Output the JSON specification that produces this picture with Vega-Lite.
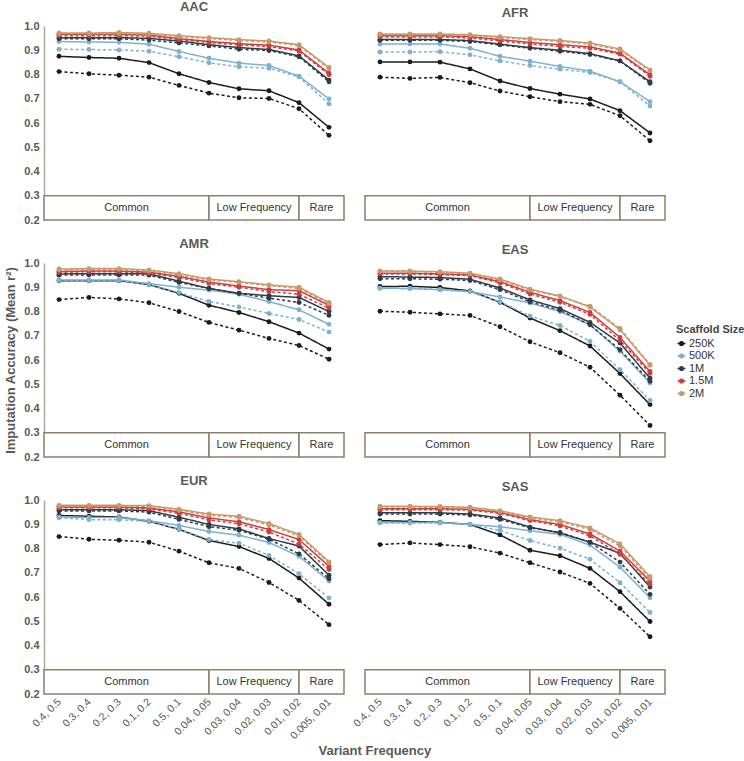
{
"$schema": "https://vega.github.io/schema/vega-lite/v6.json",
"padding": {"left": 4, "top": 1, "right": 0, "bottom": 4},
"data": {"format": {"type": "csv", "parse": {"i": "number", "acc": "number"}}, "values": "pop,size,style,i,acc\nAAC,250K,solid,0,0.875\nAAC,250K,solid,1,0.870\nAAC,250K,solid,2,0.867\nAAC,250K,solid,3,0.849\nAAC,250K,solid,4,0.803\nAAC,250K,solid,5,0.767\nAAC,250K,solid,6,0.741\nAAC,250K,solid,7,0.733\nAAC,250K,solid,8,0.684\nAAC,250K,solid,9,0.582\nAAC,250K,dashed,0,0.812\nAAC,250K,dashed,1,0.803\nAAC,250K,dashed,2,0.797\nAAC,250K,dashed,3,0.789\nAAC,250K,dashed,4,0.755\nAAC,250K,dashed,5,0.723\nAAC,250K,dashed,6,0.704\nAAC,250K,dashed,7,0.701\nAAC,250K,dashed,8,0.659\nAAC,250K,dashed,9,0.549\nAAC,500K,solid,0,0.936\nAAC,500K,solid,1,0.934\nAAC,500K,solid,2,0.933\nAAC,500K,solid,3,0.925\nAAC,500K,solid,4,0.895\nAAC,500K,solid,5,0.867\nAAC,500K,solid,6,0.847\nAAC,500K,solid,7,0.837\nAAC,500K,solid,8,0.793\nAAC,500K,solid,9,0.699\nAAC,500K,dashed,0,0.904\nAAC,500K,dashed,1,0.903\nAAC,500K,dashed,2,0.901\nAAC,500K,dashed,3,0.896\nAAC,500K,dashed,4,0.873\nAAC,500K,dashed,5,0.848\nAAC,500K,dashed,6,0.832\nAAC,500K,dashed,7,0.826\nAAC,500K,dashed,8,0.790\nAAC,500K,dashed,9,0.679\nAAC,1M,solid,0,0.952\nAAC,1M,solid,1,0.952\nAAC,1M,solid,2,0.952\nAAC,1M,solid,3,0.949\nAAC,1M,solid,4,0.938\nAAC,1M,solid,5,0.923\nAAC,1M,solid,6,0.911\nAAC,1M,solid,7,0.903\nAAC,1M,solid,8,0.877\nAAC,1M,solid,9,0.777\nAAC,1M,dashed,0,0.947\nAAC,1M,dashed,1,0.947\nAAC,1M,dashed,2,0.947\nAAC,1M,dashed,3,0.942\nAAC,1M,dashed,4,0.930\nAAC,1M,dashed,5,0.918\nAAC,1M,dashed,6,0.904\nAAC,1M,dashed,7,0.899\nAAC,1M,dashed,8,0.873\nAAC,1M,dashed,9,0.770\nAAC,1.5M,solid,0,0.966\nAAC,1.5M,solid,1,0.966\nAAC,1.5M,solid,2,0.966\nAAC,1.5M,solid,3,0.963\nAAC,1.5M,solid,4,0.948\nAAC,1.5M,solid,5,0.936\nAAC,1.5M,solid,6,0.927\nAAC,1.5M,solid,7,0.921\nAAC,1.5M,solid,8,0.901\nAAC,1.5M,solid,9,0.805\nAAC,1.5M,dashed,0,0.960\nAAC,1.5M,dashed,1,0.960\nAAC,1.5M,dashed,2,0.960\nAAC,1.5M,dashed,3,0.958\nAAC,1.5M,dashed,4,0.944\nAAC,1.5M,dashed,5,0.932\nAAC,1.5M,dashed,6,0.922\nAAC,1.5M,dashed,7,0.915\nAAC,1.5M,dashed,8,0.897\nAAC,1.5M,dashed,9,0.799\nAAC,2M,solid,0,0.971\nAAC,2M,solid,1,0.971\nAAC,2M,solid,2,0.973\nAAC,2M,solid,3,0.970\nAAC,2M,solid,4,0.960\nAAC,2M,solid,5,0.952\nAAC,2M,solid,6,0.944\nAAC,2M,solid,7,0.938\nAAC,2M,solid,8,0.923\nAAC,2M,solid,9,0.829\nAAC,2M,dashed,0,0.968\nAAC,2M,dashed,1,0.968\nAAC,2M,dashed,2,0.968\nAAC,2M,dashed,3,0.966\nAAC,2M,dashed,4,0.956\nAAC,2M,dashed,5,0.948\nAAC,2M,dashed,6,0.940\nAAC,2M,dashed,7,0.934\nAAC,2M,dashed,8,0.919\nAAC,2M,dashed,9,0.823\nAFR,250K,solid,0,0.852\nAFR,250K,solid,1,0.852\nAFR,250K,solid,2,0.851\nAFR,250K,solid,3,0.823\nAFR,250K,solid,4,0.773\nAFR,250K,solid,5,0.742\nAFR,250K,solid,6,0.719\nAFR,250K,solid,7,0.699\nAFR,250K,solid,8,0.651\nAFR,250K,solid,9,0.559\nAFR,250K,dashed,0,0.789\nAFR,250K,dashed,1,0.784\nAFR,250K,dashed,2,0.788\nAFR,250K,dashed,3,0.766\nAFR,250K,dashed,4,0.732\nAFR,250K,dashed,5,0.708\nAFR,250K,dashed,6,0.688\nAFR,250K,dashed,7,0.677\nAFR,250K,dashed,8,0.630\nAFR,250K,dashed,9,0.527\nAFR,500K,solid,0,0.926\nAFR,500K,solid,1,0.926\nAFR,500K,solid,2,0.926\nAFR,500K,solid,3,0.908\nAFR,500K,solid,4,0.875\nAFR,500K,solid,5,0.855\nAFR,500K,solid,6,0.833\nAFR,500K,solid,7,0.814\nAFR,500K,solid,8,0.770\nAFR,500K,solid,9,0.688\nAFR,500K,dashed,0,0.893\nAFR,500K,dashed,1,0.893\nAFR,500K,dashed,2,0.894\nAFR,500K,dashed,3,0.881\nAFR,500K,dashed,4,0.856\nAFR,500K,dashed,5,0.837\nAFR,500K,dashed,6,0.822\nAFR,500K,dashed,7,0.808\nAFR,500K,dashed,8,0.770\nAFR,500K,dashed,9,0.670\nAFR,1M,solid,0,0.944\nAFR,1M,solid,1,0.944\nAFR,1M,solid,2,0.944\nAFR,1M,solid,3,0.940\nAFR,1M,solid,4,0.925\nAFR,1M,solid,5,0.911\nAFR,1M,solid,6,0.900\nAFR,1M,solid,7,0.886\nAFR,1M,solid,8,0.856\nAFR,1M,solid,9,0.770\nAFR,1M,dashed,0,0.941\nAFR,1M,dashed,1,0.941\nAFR,1M,dashed,2,0.941\nAFR,1M,dashed,3,0.936\nAFR,1M,dashed,4,0.922\nAFR,1M,dashed,5,0.908\nAFR,1M,dashed,6,0.896\nAFR,1M,dashed,7,0.882\nAFR,1M,dashed,8,0.856\nAFR,1M,dashed,9,0.764\nAFR,1.5M,solid,0,0.960\nAFR,1.5M,solid,1,0.960\nAFR,1.5M,solid,2,0.960\nAFR,1.5M,solid,3,0.956\nAFR,1.5M,solid,4,0.944\nAFR,1.5M,solid,5,0.932\nAFR,1.5M,solid,6,0.923\nAFR,1.5M,solid,7,0.914\nAFR,1.5M,solid,8,0.888\nAFR,1.5M,solid,9,0.799\nAFR,1.5M,dashed,0,0.955\nAFR,1.5M,dashed,1,0.955\nAFR,1.5M,dashed,2,0.955\nAFR,1.5M,dashed,3,0.951\nAFR,1.5M,dashed,4,0.938\nAFR,1.5M,dashed,5,0.926\nAFR,1.5M,dashed,6,0.916\nAFR,1.5M,dashed,7,0.908\nAFR,1.5M,dashed,8,0.884\nAFR,1.5M,dashed,9,0.793\nAFR,2M,solid,0,0.967\nAFR,2M,solid,1,0.967\nAFR,2M,solid,2,0.967\nAFR,2M,solid,3,0.964\nAFR,2M,solid,4,0.956\nAFR,2M,solid,5,0.948\nAFR,2M,solid,6,0.940\nAFR,2M,solid,7,0.930\nAFR,2M,solid,8,0.905\nAFR,2M,solid,9,0.819\nAFR,2M,dashed,0,0.964\nAFR,2M,dashed,1,0.964\nAFR,2M,dashed,2,0.964\nAFR,2M,dashed,3,0.962\nAFR,2M,dashed,4,0.952\nAFR,2M,dashed,5,0.944\nAFR,2M,dashed,6,0.936\nAFR,2M,dashed,7,0.926\nAFR,2M,dashed,8,0.901\nAFR,2M,dashed,9,0.815\nAMR,250K,solid,0,0.927\nAMR,250K,solid,1,0.927\nAMR,250K,solid,2,0.927\nAMR,250K,solid,3,0.911\nAMR,250K,solid,4,0.875\nAMR,250K,solid,5,0.826\nAMR,250K,solid,6,0.796\nAMR,250K,solid,7,0.758\nAMR,250K,solid,8,0.711\nAMR,250K,solid,9,0.645\nAMR,250K,dashed,0,0.849\nAMR,250K,dashed,1,0.858\nAMR,250K,dashed,2,0.852\nAMR,250K,dashed,3,0.836\nAMR,250K,dashed,4,0.800\nAMR,250K,dashed,5,0.755\nAMR,250K,dashed,6,0.723\nAMR,250K,dashed,7,0.689\nAMR,250K,dashed,8,0.660\nAMR,250K,dashed,9,0.603\nAMR,500K,solid,0,0.930\nAMR,500K,solid,1,0.930\nAMR,500K,solid,2,0.930\nAMR,500K,solid,3,0.915\nAMR,500K,solid,4,0.900\nAMR,500K,solid,5,0.888\nAMR,500K,solid,6,0.871\nAMR,500K,solid,7,0.841\nAMR,500K,solid,8,0.807\nAMR,500K,solid,9,0.747\nAMR,500K,dashed,0,0.928\nAMR,500K,dashed,1,0.928\nAMR,500K,dashed,2,0.928\nAMR,500K,dashed,3,0.911\nAMR,500K,dashed,4,0.878\nAMR,500K,dashed,5,0.841\nAMR,500K,dashed,6,0.819\nAMR,500K,dashed,7,0.792\nAMR,500K,dashed,8,0.767\nAMR,500K,dashed,9,0.715\nAMR,1M,solid,0,0.955\nAMR,1M,solid,1,0.956\nAMR,1M,solid,2,0.956\nAMR,1M,solid,3,0.955\nAMR,1M,solid,4,0.925\nAMR,1M,solid,5,0.895\nAMR,1M,solid,6,0.875\nAMR,1M,solid,7,0.865\nAMR,1M,solid,8,0.858\nAMR,1M,solid,9,0.800\nAMR,1M,dashed,0,0.950\nAMR,1M,dashed,1,0.951\nAMR,1M,dashed,2,0.951\nAMR,1M,dashed,3,0.950\nAMR,1M,dashed,4,0.920\nAMR,1M,dashed,5,0.895\nAMR,1M,dashed,6,0.875\nAMR,1M,dashed,7,0.855\nAMR,1M,dashed,8,0.837\nAMR,1M,dashed,9,0.784\nAMR,1.5M,solid,0,0.965\nAMR,1.5M,solid,1,0.967\nAMR,1.5M,solid,2,0.967\nAMR,1.5M,solid,3,0.962\nAMR,1.5M,solid,4,0.945\nAMR,1.5M,solid,5,0.921\nAMR,1.5M,solid,6,0.905\nAMR,1.5M,solid,7,0.890\nAMR,1.5M,solid,8,0.886\nAMR,1.5M,solid,9,0.825\nAMR,1.5M,dashed,0,0.962\nAMR,1.5M,dashed,1,0.964\nAMR,1.5M,dashed,2,0.964\nAMR,1.5M,dashed,3,0.958\nAMR,1.5M,dashed,4,0.940\nAMR,1.5M,dashed,5,0.915\nAMR,1.5M,dashed,6,0.900\nAMR,1.5M,dashed,7,0.882\nAMR,1.5M,dashed,8,0.871\nAMR,1.5M,dashed,9,0.814\nAMR,2M,solid,0,0.975\nAMR,2M,solid,1,0.977\nAMR,2M,solid,2,0.977\nAMR,2M,solid,3,0.971\nAMR,2M,solid,4,0.956\nAMR,2M,solid,5,0.934\nAMR,2M,solid,6,0.923\nAMR,2M,solid,7,0.910\nAMR,2M,solid,8,0.900\nAMR,2M,solid,9,0.837\nAMR,2M,dashed,0,0.972\nAMR,2M,dashed,1,0.974\nAMR,2M,dashed,2,0.974\nAMR,2M,dashed,3,0.968\nAMR,2M,dashed,4,0.952\nAMR,2M,dashed,5,0.930\nAMR,2M,dashed,6,0.920\nAMR,2M,dashed,7,0.906\nAMR,2M,dashed,8,0.895\nAMR,2M,dashed,9,0.832\nEAS,250K,solid,0,0.903\nEAS,250K,solid,1,0.904\nEAS,250K,solid,2,0.899\nEAS,250K,solid,3,0.885\nEAS,250K,solid,4,0.838\nEAS,250K,solid,5,0.773\nEAS,250K,solid,6,0.721\nEAS,250K,solid,7,0.658\nEAS,250K,solid,8,0.544\nEAS,250K,solid,9,0.416\nEAS,250K,dashed,0,0.801\nEAS,250K,dashed,1,0.797\nEAS,250K,dashed,2,0.790\nEAS,250K,dashed,3,0.784\nEAS,250K,dashed,4,0.737\nEAS,250K,dashed,5,0.675\nEAS,250K,dashed,6,0.630\nEAS,250K,dashed,7,0.570\nEAS,250K,dashed,8,0.455\nEAS,250K,dashed,9,0.330\nEAS,500K,solid,0,0.896\nEAS,500K,solid,1,0.895\nEAS,500K,solid,2,0.890\nEAS,500K,solid,3,0.882\nEAS,500K,solid,4,0.860\nEAS,500K,solid,5,0.835\nEAS,500K,solid,6,0.800\nEAS,500K,solid,7,0.745\nEAS,500K,solid,8,0.636\nEAS,500K,solid,9,0.505\nEAS,500K,dashed,0,0.896\nEAS,500K,dashed,1,0.895\nEAS,500K,dashed,2,0.890\nEAS,500K,dashed,3,0.882\nEAS,500K,dashed,4,0.840\nEAS,500K,dashed,5,0.781\nEAS,500K,dashed,6,0.742\nEAS,500K,dashed,7,0.677\nEAS,500K,dashed,8,0.560\nEAS,500K,dashed,9,0.433\nEAS,1M,solid,0,0.944\nEAS,1M,solid,1,0.942\nEAS,1M,solid,2,0.940\nEAS,1M,solid,3,0.933\nEAS,1M,solid,4,0.897\nEAS,1M,solid,5,0.848\nEAS,1M,solid,6,0.812\nEAS,1M,solid,7,0.755\nEAS,1M,solid,8,0.670\nEAS,1M,solid,9,0.525\nEAS,1M,dashed,0,0.935\nEAS,1M,dashed,1,0.935\nEAS,1M,dashed,2,0.933\nEAS,1M,dashed,3,0.928\nEAS,1M,dashed,4,0.890\nEAS,1M,dashed,5,0.840\nEAS,1M,dashed,6,0.805\nEAS,1M,dashed,7,0.745\nEAS,1M,dashed,8,0.642\nEAS,1M,dashed,9,0.512\nEAS,1.5M,solid,0,0.958\nEAS,1.5M,solid,1,0.958\nEAS,1.5M,solid,2,0.955\nEAS,1.5M,solid,3,0.951\nEAS,1.5M,solid,4,0.923\nEAS,1.5M,solid,5,0.879\nEAS,1.5M,solid,6,0.845\nEAS,1.5M,solid,7,0.796\nEAS,1.5M,solid,8,0.693\nEAS,1.5M,solid,9,0.553\nEAS,1.5M,dashed,0,0.955\nEAS,1.5M,dashed,1,0.955\nEAS,1.5M,dashed,2,0.952\nEAS,1.5M,dashed,3,0.948\nEAS,1.5M,dashed,4,0.918\nEAS,1.5M,dashed,5,0.872\nEAS,1.5M,dashed,6,0.838\nEAS,1.5M,dashed,7,0.788\nEAS,1.5M,dashed,8,0.680\nEAS,1.5M,dashed,9,0.545\nEAS,2M,solid,0,0.967\nEAS,2M,solid,1,0.967\nEAS,2M,solid,2,0.964\nEAS,2M,solid,3,0.958\nEAS,2M,solid,4,0.934\nEAS,2M,solid,5,0.892\nEAS,2M,solid,6,0.864\nEAS,2M,solid,7,0.818\nEAS,2M,solid,8,0.725\nEAS,2M,solid,9,0.578\nEAS,2M,dashed,0,0.965\nEAS,2M,dashed,1,0.965\nEAS,2M,dashed,2,0.962\nEAS,2M,dashed,3,0.955\nEAS,2M,dashed,4,0.930\nEAS,2M,dashed,5,0.888\nEAS,2M,dashed,6,0.862\nEAS,2M,dashed,7,0.822\nEAS,2M,dashed,8,0.730\nEAS,2M,dashed,9,0.582\nEUR,250K,solid,0,0.936\nEUR,250K,solid,1,0.933\nEUR,250K,solid,2,0.930\nEUR,250K,solid,3,0.912\nEUR,250K,solid,4,0.879\nEUR,250K,solid,5,0.833\nEUR,250K,solid,6,0.808\nEUR,250K,solid,7,0.759\nEUR,250K,solid,8,0.678\nEUR,250K,solid,9,0.570\nEUR,250K,dashed,0,0.849\nEUR,250K,dashed,1,0.838\nEUR,250K,dashed,2,0.834\nEUR,250K,dashed,3,0.826\nEUR,250K,dashed,4,0.789\nEUR,250K,dashed,5,0.741\nEUR,250K,dashed,6,0.718\nEUR,250K,dashed,7,0.660\nEUR,250K,dashed,8,0.586\nEUR,250K,dashed,9,0.486\nEUR,500K,solid,0,0.930\nEUR,500K,solid,1,0.928\nEUR,500K,solid,2,0.928\nEUR,500K,solid,3,0.915\nEUR,500K,solid,4,0.895\nEUR,500K,solid,5,0.870\nEUR,500K,solid,6,0.855\nEUR,500K,solid,7,0.825\nEUR,500K,solid,8,0.768\nEUR,500K,solid,9,0.666\nEUR,500K,dashed,0,0.927\nEUR,500K,dashed,1,0.919\nEUR,500K,dashed,2,0.919\nEUR,500K,dashed,3,0.912\nEUR,500K,dashed,4,0.879\nEUR,500K,dashed,5,0.837\nEUR,500K,dashed,6,0.822\nEUR,500K,dashed,7,0.771\nEUR,500K,dashed,8,0.696\nEUR,500K,dashed,9,0.596\nEUR,1M,solid,0,0.960\nEUR,1M,solid,1,0.960\nEUR,1M,solid,2,0.960\nEUR,1M,solid,3,0.956\nEUR,1M,solid,4,0.929\nEUR,1M,solid,5,0.899\nEUR,1M,solid,6,0.881\nEUR,1M,solid,7,0.841\nEUR,1M,solid,8,0.810\nEUR,1M,solid,9,0.690\nEUR,1M,dashed,0,0.955\nEUR,1M,dashed,1,0.955\nEUR,1M,dashed,2,0.955\nEUR,1M,dashed,3,0.950\nEUR,1M,dashed,4,0.920\nEUR,1M,dashed,5,0.890\nEUR,1M,dashed,6,0.875\nEUR,1M,dashed,7,0.838\nEUR,1M,dashed,8,0.778\nEUR,1M,dashed,9,0.675\nEUR,1.5M,solid,0,0.971\nEUR,1.5M,solid,1,0.971\nEUR,1.5M,solid,2,0.971\nEUR,1.5M,solid,3,0.967\nEUR,1.5M,solid,4,0.951\nEUR,1.5M,solid,5,0.926\nEUR,1.5M,solid,6,0.910\nEUR,1.5M,solid,7,0.878\nEUR,1.5M,solid,8,0.837\nEUR,1.5M,solid,9,0.727\nEUR,1.5M,dashed,0,0.968\nEUR,1.5M,dashed,1,0.968\nEUR,1.5M,dashed,2,0.968\nEUR,1.5M,dashed,3,0.963\nEUR,1.5M,dashed,4,0.945\nEUR,1.5M,dashed,5,0.918\nEUR,1.5M,dashed,6,0.902\nEUR,1.5M,dashed,7,0.868\nEUR,1.5M,dashed,8,0.818\nEUR,1.5M,dashed,9,0.713\nEUR,2M,solid,0,0.978\nEUR,2M,solid,1,0.978\nEUR,2M,solid,2,0.978\nEUR,2M,solid,3,0.977\nEUR,2M,solid,4,0.962\nEUR,2M,solid,5,0.942\nEUR,2M,solid,6,0.933\nEUR,2M,solid,7,0.903\nEUR,2M,solid,8,0.858\nEUR,2M,solid,9,0.745\nEUR,2M,dashed,0,0.975\nEUR,2M,dashed,1,0.975\nEUR,2M,dashed,2,0.975\nEUR,2M,dashed,3,0.974\nEUR,2M,dashed,4,0.958\nEUR,2M,dashed,5,0.937\nEUR,2M,dashed,6,0.928\nEUR,2M,dashed,7,0.897\nEUR,2M,dashed,8,0.852\nEUR,2M,dashed,9,0.740\nSAS,250K,solid,0,0.915\nSAS,250K,solid,1,0.912\nSAS,250K,solid,2,0.908\nSAS,250K,solid,3,0.899\nSAS,250K,solid,4,0.856\nSAS,250K,solid,5,0.793\nSAS,250K,solid,6,0.770\nSAS,250K,solid,7,0.718\nSAS,250K,solid,8,0.622\nSAS,250K,solid,9,0.499\nSAS,250K,dashed,0,0.816\nSAS,250K,dashed,1,0.823\nSAS,250K,dashed,2,0.816\nSAS,250K,dashed,3,0.807\nSAS,250K,dashed,4,0.781\nSAS,250K,dashed,5,0.741\nSAS,250K,dashed,6,0.703\nSAS,250K,dashed,7,0.656\nSAS,250K,dashed,8,0.553\nSAS,250K,dashed,9,0.436\nSAS,500K,solid,0,0.907\nSAS,500K,solid,1,0.907\nSAS,500K,solid,2,0.907\nSAS,500K,solid,3,0.899\nSAS,500K,solid,4,0.890\nSAS,500K,solid,5,0.873\nSAS,500K,solid,6,0.858\nSAS,500K,solid,7,0.814\nSAS,500K,solid,8,0.723\nSAS,500K,solid,9,0.597\nSAS,500K,dashed,0,0.905\nSAS,500K,dashed,1,0.905\nSAS,500K,dashed,2,0.905\nSAS,500K,dashed,3,0.899\nSAS,500K,dashed,4,0.874\nSAS,500K,dashed,5,0.833\nSAS,500K,dashed,6,0.801\nSAS,500K,dashed,7,0.756\nSAS,500K,dashed,8,0.659\nSAS,500K,dashed,9,0.536\nSAS,1M,solid,0,0.947\nSAS,1M,solid,1,0.947\nSAS,1M,solid,2,0.947\nSAS,1M,solid,3,0.942\nSAS,1M,solid,4,0.926\nSAS,1M,solid,5,0.888\nSAS,1M,solid,6,0.864\nSAS,1M,solid,7,0.826\nSAS,1M,solid,8,0.780\nSAS,1M,solid,9,0.641\nSAS,1M,dashed,0,0.942\nSAS,1M,dashed,1,0.942\nSAS,1M,dashed,2,0.942\nSAS,1M,dashed,3,0.938\nSAS,1M,dashed,4,0.920\nSAS,1M,dashed,5,0.885\nSAS,1M,dashed,6,0.866\nSAS,1M,dashed,7,0.826\nSAS,1M,dashed,8,0.744\nSAS,1M,dashed,9,0.611\nSAS,1.5M,solid,0,0.964\nSAS,1.5M,solid,1,0.964\nSAS,1.5M,solid,2,0.964\nSAS,1.5M,solid,3,0.962\nSAS,1.5M,solid,4,0.949\nSAS,1.5M,solid,5,0.919\nSAS,1.5M,solid,6,0.899\nSAS,1.5M,solid,7,0.860\nSAS,1.5M,solid,8,0.789\nSAS,1.5M,solid,9,0.666\nSAS,1.5M,dashed,0,0.960\nSAS,1.5M,dashed,1,0.960\nSAS,1.5M,dashed,2,0.960\nSAS,1.5M,dashed,3,0.958\nSAS,1.5M,dashed,4,0.945\nSAS,1.5M,dashed,5,0.915\nSAS,1.5M,dashed,6,0.893\nSAS,1.5M,dashed,7,0.852\nSAS,1.5M,dashed,8,0.776\nSAS,1.5M,dashed,9,0.653\nSAS,2M,solid,0,0.974\nSAS,2M,solid,1,0.974\nSAS,2M,solid,2,0.973\nSAS,2M,solid,3,0.970\nSAS,2M,solid,4,0.956\nSAS,2M,solid,5,0.930\nSAS,2M,solid,6,0.915\nSAS,2M,solid,7,0.885\nSAS,2M,solid,8,0.819\nSAS,2M,solid,9,0.684\nSAS,2M,dashed,0,0.971\nSAS,2M,dashed,1,0.971\nSAS,2M,dashed,2,0.970\nSAS,2M,dashed,3,0.966\nSAS,2M,dashed,4,0.952\nSAS,2M,dashed,5,0.926\nSAS,2M,dashed,6,0.910\nSAS,2M,dashed,7,0.878\nSAS,2M,dashed,8,0.810\nSAS,2M,dashed,9,0.676"},
"datasets": {"bands": [{"band": "Common", "x0": -0.5, "x1": 5, "xm": 2.25}, {"band": "Low Frequency", "x0": 5, "x1": 8, "xm": 6.5}, {"band": "Rare", "x0": 8, "x1": 9.5, "xm": 8.75}]},
"title": {"text": "Variant Frequency", "orient": "bottom", "anchor": "middle", "fontSize": 13, "fontWeight": "bold", "color": "#595959", "offset": 4},
"columns": 2,
"spacing": {"row": 43, "column": 21},
"bounds": "flush",
"concat": [
{"width": 300, "height": 194, "title": {"text": "AAC"}, "layer": [
{"data": {"name": "bands"}, "mark": {"type": "rect", "fill": "#ffffff", "stroke": "#8c806b", "strokeWidth": 1.5}, "encoding": {"x": {"field": "x0", "type": "quantitative", "scale": {"domain": [-0.5, 9.5]}}, "x2": {"field": "x1"}, "y": {"datum": 0.2, "type": "quantitative", "scale": {"domain": [0.2, 1]}}, "y2": {"datum": 0.3}}},
{"data": {"name": "bands"}, "mark": {"type": "text", "fontSize": 11, "color": "#333333"}, "encoding": {"x": {"field": "xm", "type": "quantitative", "scale": {"domain": [-0.5, 9.5]}}, "y": {"datum": 0.25, "type": "quantitative", "scale": {"domain": [0.2, 1]}}, "text": {"field": "band"}}},
{"transform": [{"filter": "datum.pop === 'AAC'"}], "mark": {"type": "line", "strokeWidth": 1.5, "point": {"filled": true, "size": 24}}, "encoding": {
"x": {"field": "i", "type": "quantitative", "scale": {"domain": [-0.5, 9.5]}, "axis": {"labels": false, "title": null, "domain": false, "ticks": false, "grid": false}},
"y": {"field": "acc", "type": "quantitative", "scale": {"domain": [0.2, 1]}, "axis": {"values": [0.2,0.25,0.3,0.35,0.4,0.45,0.5,0.55,0.6,0.65,0.7,0.75,0.8,0.85,0.9,0.95,1.0], "tickCount": 40, "labelExpr": "round(datum.value*100) % 10 === 0 ? format(datum.value, '.1f') : ''", "title": null, "domainColor": "#b0a796", "domainWidth": 1.5, "ticks": false, "labelPadding": 5, "labelFlush": false, "labelOverlap": false, "labelFontSize": 11, "labelFontWeight": "bold", "labelColor": "#595959", "gridColor": {"condition": {"test": "round(datum.value*100) % 10 === 0", "value": "#d4d4d4"}, "value": "#ececec"}, "gridDash": [3, 3]}},
"color": {"field": "size", "type": "nominal", "scale": {"domain": ["250K", "500K", "1M", "1.5M", "2M"], "range": ["#1b1b1b", "#7eb0cf", "#2d3c46", "#d23c3e", "#c49a6a"]}, "legend": {"title": "Scaffold Size", "orient": "none", "legendX": 632, "legendY": 298, "symbolType": "M-1,0L1,0M-0.45,0A0.45,0.45,0,1,1,0.45,0A0.45,0.45,0,1,1,-0.45,0Z", "symbolSize": 64, "symbolStrokeWidth": 1.5, "labelFontSize": 11, "labelColor": "#333333", "titleFontSize": 11, "titleColor": "#444444", "titleFontWeight": "bold", "titlePadding": 3, "rowPadding": 0.5, "labelOffset": 2, "encode": {"symbols": {"update": {"fill": {"scale": "color", "field": "value"}, "stroke": {"scale": "color", "field": "value"}}}}}},
"strokeDash": {"field": "style", "type": "nominal", "scale": {"domain": ["solid", "dashed"], "range": [[1, 0], [3, 2.5]]}, "legend": null}}}
]},
{"width": 300, "height": 194, "title": {"text": "AFR"}, "layer": [
{"data": {"name": "bands"}, "mark": {"type": "rect", "fill": "#ffffff", "stroke": "#8c806b", "strokeWidth": 1.5}, "encoding": {"x": {"field": "x0", "type": "quantitative", "scale": {"domain": [-0.5, 9.5]}}, "x2": {"field": "x1"}, "y": {"datum": 0.2, "type": "quantitative", "scale": {"domain": [0.2, 1]}}, "y2": {"datum": 0.3}}},
{"data": {"name": "bands"}, "mark": {"type": "text", "fontSize": 11, "color": "#333333"}, "encoding": {"x": {"field": "xm", "type": "quantitative", "scale": {"domain": [-0.5, 9.5]}}, "y": {"datum": 0.25, "type": "quantitative", "scale": {"domain": [0.2, 1]}}, "text": {"field": "band"}}},
{"transform": [{"filter": "datum.pop === 'AFR'"}], "mark": {"type": "line", "strokeWidth": 1.5, "point": {"filled": true, "size": 24}}, "encoding": {
"x": {"field": "i", "type": "quantitative", "scale": {"domain": [-0.5, 9.5]}, "axis": {"labels": false, "title": null, "domain": false, "ticks": false, "grid": false}},
"y": {"field": "acc", "type": "quantitative", "scale": {"domain": [0.2, 1]}, "axis": {"values": [0.2,0.25,0.3,0.35,0.4,0.45,0.5,0.55,0.6,0.65,0.7,0.75,0.8,0.85,0.9,0.95,1.0], "tickCount": 40, "labels": false, "title": null, "domain": false, "ticks": false, "gridColor": {"condition": {"test": "round(datum.value*100) % 10 === 0", "value": "#d4d4d4"}, "value": "#ececec"}, "gridDash": [3, 3]}},
"color": {"field": "size", "type": "nominal", "scale": {"domain": ["250K", "500K", "1M", "1.5M", "2M"], "range": ["#1b1b1b", "#7eb0cf", "#2d3c46", "#d23c3e", "#c49a6a"]}, "legend": {"title": "Scaffold Size", "orient": "none", "legendX": 632, "legendY": 298, "symbolType": "M-1,0L1,0M-0.45,0A0.45,0.45,0,1,1,0.45,0A0.45,0.45,0,1,1,-0.45,0Z", "symbolSize": 64, "symbolStrokeWidth": 1.5, "labelFontSize": 11, "labelColor": "#333333", "titleFontSize": 11, "titleColor": "#444444", "titleFontWeight": "bold", "titlePadding": 3, "rowPadding": 0.5, "labelOffset": 2, "encode": {"symbols": {"update": {"fill": {"scale": "color", "field": "value"}, "stroke": {"scale": "color", "field": "value"}}}}}},
"strokeDash": {"field": "style", "type": "nominal", "scale": {"domain": ["solid", "dashed"], "range": [[1, 0], [3, 2.5]]}, "legend": null}}}
]},
{"width": 300, "height": 194, "title": {"text": "AMR"}, "layer": [
{"data": {"name": "bands"}, "mark": {"type": "rect", "fill": "#ffffff", "stroke": "#8c806b", "strokeWidth": 1.5}, "encoding": {"x": {"field": "x0", "type": "quantitative", "scale": {"domain": [-0.5, 9.5]}}, "x2": {"field": "x1"}, "y": {"datum": 0.2, "type": "quantitative", "scale": {"domain": [0.2, 1]}}, "y2": {"datum": 0.3}}},
{"data": {"name": "bands"}, "mark": {"type": "text", "fontSize": 11, "color": "#333333"}, "encoding": {"x": {"field": "xm", "type": "quantitative", "scale": {"domain": [-0.5, 9.5]}}, "y": {"datum": 0.25, "type": "quantitative", "scale": {"domain": [0.2, 1]}}, "text": {"field": "band"}}},
{"transform": [{"filter": "datum.pop === 'AMR'"}], "mark": {"type": "line", "strokeWidth": 1.5, "point": {"filled": true, "size": 24}}, "encoding": {
"x": {"field": "i", "type": "quantitative", "scale": {"domain": [-0.5, 9.5]}, "axis": {"labels": false, "title": null, "domain": false, "ticks": false, "grid": false}},
"y": {"field": "acc", "type": "quantitative", "scale": {"domain": [0.2, 1]}, "axis": {"values": [0.2,0.25,0.3,0.35,0.4,0.45,0.5,0.55,0.6,0.65,0.7,0.75,0.8,0.85,0.9,0.95,1.0], "tickCount": 40, "labelExpr": "round(datum.value*100) % 10 === 0 ? format(datum.value, '.1f') : ''", "title": "Imputation Accuracy (Mean r²)", "titleFontSize": 13, "titleFontWeight": "bold", "titleColor": "#595959", "titlePadding": 6, "domainColor": "#b0a796", "domainWidth": 1.5, "ticks": false, "labelPadding": 5, "labelFlush": false, "labelOverlap": false, "labelFontSize": 11, "labelFontWeight": "bold", "labelColor": "#595959", "gridColor": {"condition": {"test": "round(datum.value*100) % 10 === 0", "value": "#d4d4d4"}, "value": "#ececec"}, "gridDash": [3, 3]}},
"color": {"field": "size", "type": "nominal", "scale": {"domain": ["250K", "500K", "1M", "1.5M", "2M"], "range": ["#1b1b1b", "#7eb0cf", "#2d3c46", "#d23c3e", "#c49a6a"]}, "legend": {"title": "Scaffold Size", "orient": "none", "legendX": 632, "legendY": 298, "symbolType": "M-1,0L1,0M-0.45,0A0.45,0.45,0,1,1,0.45,0A0.45,0.45,0,1,1,-0.45,0Z", "symbolSize": 64, "symbolStrokeWidth": 1.5, "labelFontSize": 11, "labelColor": "#333333", "titleFontSize": 11, "titleColor": "#444444", "titleFontWeight": "bold", "titlePadding": 3, "rowPadding": 0.5, "labelOffset": 2, "encode": {"symbols": {"update": {"fill": {"scale": "color", "field": "value"}, "stroke": {"scale": "color", "field": "value"}}}}}},
"strokeDash": {"field": "style", "type": "nominal", "scale": {"domain": ["solid", "dashed"], "range": [[1, 0], [3, 2.5]]}, "legend": null}}}
]},
{"width": 300, "height": 194, "title": {"text": "EAS"}, "layer": [
{"data": {"name": "bands"}, "mark": {"type": "rect", "fill": "#ffffff", "stroke": "#8c806b", "strokeWidth": 1.5}, "encoding": {"x": {"field": "x0", "type": "quantitative", "scale": {"domain": [-0.5, 9.5]}}, "x2": {"field": "x1"}, "y": {"datum": 0.2, "type": "quantitative", "scale": {"domain": [0.2, 1]}}, "y2": {"datum": 0.3}}},
{"data": {"name": "bands"}, "mark": {"type": "text", "fontSize": 11, "color": "#333333"}, "encoding": {"x": {"field": "xm", "type": "quantitative", "scale": {"domain": [-0.5, 9.5]}}, "y": {"datum": 0.25, "type": "quantitative", "scale": {"domain": [0.2, 1]}}, "text": {"field": "band"}}},
{"transform": [{"filter": "datum.pop === 'EAS'"}], "mark": {"type": "line", "strokeWidth": 1.5, "point": {"filled": true, "size": 24}}, "encoding": {
"x": {"field": "i", "type": "quantitative", "scale": {"domain": [-0.5, 9.5]}, "axis": {"labels": false, "title": null, "domain": false, "ticks": false, "grid": false}},
"y": {"field": "acc", "type": "quantitative", "scale": {"domain": [0.2, 1]}, "axis": {"values": [0.2,0.25,0.3,0.35,0.4,0.45,0.5,0.55,0.6,0.65,0.7,0.75,0.8,0.85,0.9,0.95,1.0], "tickCount": 40, "labels": false, "title": null, "domain": false, "ticks": false, "gridColor": {"condition": {"test": "round(datum.value*100) % 10 === 0", "value": "#d4d4d4"}, "value": "#ececec"}, "gridDash": [3, 3]}},
"color": {"field": "size", "type": "nominal", "scale": {"domain": ["250K", "500K", "1M", "1.5M", "2M"], "range": ["#1b1b1b", "#7eb0cf", "#2d3c46", "#d23c3e", "#c49a6a"]}, "legend": {"title": "Scaffold Size", "orient": "none", "legendX": 632, "legendY": 298, "symbolType": "M-1,0L1,0M-0.45,0A0.45,0.45,0,1,1,0.45,0A0.45,0.45,0,1,1,-0.45,0Z", "symbolSize": 64, "symbolStrokeWidth": 1.5, "labelFontSize": 11, "labelColor": "#333333", "titleFontSize": 11, "titleColor": "#444444", "titleFontWeight": "bold", "titlePadding": 3, "rowPadding": 0.5, "labelOffset": 2, "encode": {"symbols": {"update": {"fill": {"scale": "color", "field": "value"}, "stroke": {"scale": "color", "field": "value"}}}}}},
"strokeDash": {"field": "style", "type": "nominal", "scale": {"domain": ["solid", "dashed"], "range": [[1, 0], [3, 2.5]]}, "legend": null}}}
]},
{"width": 300, "height": 194, "title": {"text": "EUR"}, "layer": [
{"data": {"name": "bands"}, "mark": {"type": "rect", "fill": "#ffffff", "stroke": "#8c806b", "strokeWidth": 1.5}, "encoding": {"x": {"field": "x0", "type": "quantitative", "scale": {"domain": [-0.5, 9.5]}}, "x2": {"field": "x1"}, "y": {"datum": 0.2, "type": "quantitative", "scale": {"domain": [0.2, 1]}}, "y2": {"datum": 0.3}}},
{"data": {"name": "bands"}, "mark": {"type": "text", "fontSize": 11, "color": "#333333"}, "encoding": {"x": {"field": "xm", "type": "quantitative", "scale": {"domain": [-0.5, 9.5]}}, "y": {"datum": 0.25, "type": "quantitative", "scale": {"domain": [0.2, 1]}}, "text": {"field": "band"}}},
{"transform": [{"filter": "datum.pop === 'EUR'"}], "mark": {"type": "line", "strokeWidth": 1.5, "point": {"filled": true, "size": 24}}, "encoding": {
"x": {"field": "i", "type": "quantitative", "scale": {"domain": [-0.5, 9.5]}, "axis": {"values": [0,1,2,3,4,5,6,7,8,9], "tickCount": 40, "labelExpr": "['0.4, 0.5','0.3, 0.4','0.2, 0.3','0.1, 0.2','0.5, 0.1','0.04, 0.05','0.03, 0.04','0.02, 0.03','0.01, 0.02','0.005, 0.01'][datum.value]", "labelAngle": -45, "labelAlign": "right", "labelBaseline": "middle", "labelFontSize": 10.5, "labelColor": "#555555", "labelPadding": 6, "labelFlush": false, "labelOverlap": false, "title": null, "domain": false, "ticks": false, "grid": false}},
"y": {"field": "acc", "type": "quantitative", "scale": {"domain": [0.2, 1]}, "axis": {"values": [0.2,0.25,0.3,0.35,0.4,0.45,0.5,0.55,0.6,0.65,0.7,0.75,0.8,0.85,0.9,0.95,1.0], "tickCount": 40, "labelExpr": "round(datum.value*100) % 10 === 0 ? format(datum.value, '.1f') : ''", "title": null, "domainColor": "#b0a796", "domainWidth": 1.5, "ticks": false, "labelPadding": 5, "labelFlush": false, "labelOverlap": false, "labelFontSize": 11, "labelFontWeight": "bold", "labelColor": "#595959", "gridColor": {"condition": {"test": "round(datum.value*100) % 10 === 0", "value": "#d4d4d4"}, "value": "#ececec"}, "gridDash": [3, 3]}},
"color": {"field": "size", "type": "nominal", "scale": {"domain": ["250K", "500K", "1M", "1.5M", "2M"], "range": ["#1b1b1b", "#7eb0cf", "#2d3c46", "#d23c3e", "#c49a6a"]}, "legend": {"title": "Scaffold Size", "orient": "none", "legendX": 632, "legendY": 298, "symbolType": "M-1,0L1,0M-0.45,0A0.45,0.45,0,1,1,0.45,0A0.45,0.45,0,1,1,-0.45,0Z", "symbolSize": 64, "symbolStrokeWidth": 1.5, "labelFontSize": 11, "labelColor": "#333333", "titleFontSize": 11, "titleColor": "#444444", "titleFontWeight": "bold", "titlePadding": 3, "rowPadding": 0.5, "labelOffset": 2, "encode": {"symbols": {"update": {"fill": {"scale": "color", "field": "value"}, "stroke": {"scale": "color", "field": "value"}}}}}},
"strokeDash": {"field": "style", "type": "nominal", "scale": {"domain": ["solid", "dashed"], "range": [[1, 0], [3, 2.5]]}, "legend": null}}}
]},
{"width": 300, "height": 194, "title": {"text": "SAS"}, "layer": [
{"data": {"name": "bands"}, "mark": {"type": "rect", "fill": "#ffffff", "stroke": "#8c806b", "strokeWidth": 1.5}, "encoding": {"x": {"field": "x0", "type": "quantitative", "scale": {"domain": [-0.5, 9.5]}}, "x2": {"field": "x1"}, "y": {"datum": 0.2, "type": "quantitative", "scale": {"domain": [0.2, 1]}}, "y2": {"datum": 0.3}}},
{"data": {"name": "bands"}, "mark": {"type": "text", "fontSize": 11, "color": "#333333"}, "encoding": {"x": {"field": "xm", "type": "quantitative", "scale": {"domain": [-0.5, 9.5]}}, "y": {"datum": 0.25, "type": "quantitative", "scale": {"domain": [0.2, 1]}}, "text": {"field": "band"}}},
{"transform": [{"filter": "datum.pop === 'SAS'"}], "mark": {"type": "line", "strokeWidth": 1.5, "point": {"filled": true, "size": 24}}, "encoding": {
"x": {"field": "i", "type": "quantitative", "scale": {"domain": [-0.5, 9.5]}, "axis": {"values": [0,1,2,3,4,5,6,7,8,9], "tickCount": 40, "labelExpr": "['0.4, 0.5','0.3, 0.4','0.2, 0.3','0.1, 0.2','0.5, 0.1','0.04, 0.05','0.03, 0.04','0.02, 0.03','0.01, 0.02','0.005, 0.01'][datum.value]", "labelAngle": -45, "labelAlign": "right", "labelBaseline": "middle", "labelFontSize": 10.5, "labelColor": "#555555", "labelPadding": 6, "labelFlush": false, "labelOverlap": false, "title": null, "domain": false, "ticks": false, "grid": false}},
"y": {"field": "acc", "type": "quantitative", "scale": {"domain": [0.2, 1]}, "axis": {"values": [0.2,0.25,0.3,0.35,0.4,0.45,0.5,0.55,0.6,0.65,0.7,0.75,0.8,0.85,0.9,0.95,1.0], "tickCount": 40, "labels": false, "title": null, "domain": false, "ticks": false, "gridColor": {"condition": {"test": "round(datum.value*100) % 10 === 0", "value": "#d4d4d4"}, "value": "#ececec"}, "gridDash": [3, 3]}},
"color": {"field": "size", "type": "nominal", "scale": {"domain": ["250K", "500K", "1M", "1.5M", "2M"], "range": ["#1b1b1b", "#7eb0cf", "#2d3c46", "#d23c3e", "#c49a6a"]}, "legend": {"title": "Scaffold Size", "orient": "none", "legendX": 632, "legendY": 298, "symbolType": "M-1,0L1,0M-0.45,0A0.45,0.45,0,1,1,0.45,0A0.45,0.45,0,1,1,-0.45,0Z", "symbolSize": 64, "symbolStrokeWidth": 1.5, "labelFontSize": 11, "labelColor": "#333333", "titleFontSize": 11, "titleColor": "#444444", "titleFontWeight": "bold", "titlePadding": 3, "rowPadding": 0.5, "labelOffset": 2, "encode": {"symbols": {"update": {"fill": {"scale": "color", "field": "value"}, "stroke": {"scale": "color", "field": "value"}}}}}},
"strokeDash": {"field": "style", "type": "nominal", "scale": {"domain": ["solid", "dashed"], "range": [[1, 0], [3, 2.5]]}, "legend": null}}}
]}
],
"config": {"font": "Liberation Sans", "view": {"stroke": null}, "axis": {"labelOverlap": false, "labelFlush": false}, "title": {"fontSize": 13, "fontWeight": "bold", "color": "#595959", "offset": 6}}
}
